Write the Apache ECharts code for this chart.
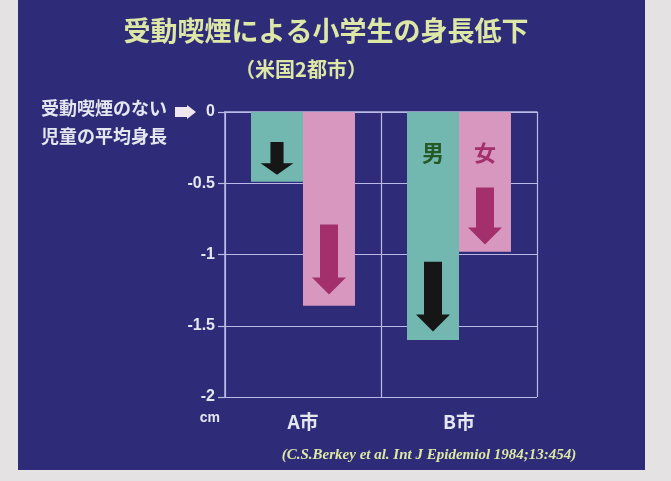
<!DOCTYPE html>
<html>
<head>
<meta charset="utf-8">
<script src="https://cdn.jsdelivr.net/npm/echarts@6/dist/echarts.min.js"></script>
<style>
  html, body { margin: 0; padding: 0; background: #e4e2e2; }
  #chart { width: 671px; height: 481px; }
</style>
</head>
<body>
<div id="chart"></div>
<script>
// Height deficit (cm) of children exposed to passive smoking, two US cities
const cities = ['A市', 'B市'];
const boysDeficit = [-0.49, -1.60];
const girlsDeficit = [-1.36, -0.98];
const yTicks = [0, -0.5, -1, -1.5, -2];
const labelledCity = 'B市';

// Decorative downward arrows inside each bar (start / tip values)
const boysArrowFrom = [-0.21, -1.05];
const boysArrowTo = [-0.44, -1.54];
const girlsArrowFrom = [-0.79, -0.53];
const girlsArrowTo = [-1.28, -0.93];

const FONT_JP = '"Noto Sans CJK JP", "Noto Sans", sans-serif';
const FONT_NUM = '"Liberation Sans", Arial, sans-serif';
const NAVY = '#2e2c78';
const GRIDLINE = '#b9b8e6';
const PALE = '#dde8a6';
const INK = '#e4e6f0';
const TEAL = '#73b8b0';
const PINK = '#d797bf';
const CRIMSON = '#a3306c';
const DARK = '#161616';

function withSeriesLabel(values) {
  return values.map((v, i) => cities[i] === labelledCity ? { value: v, label: { show: true } } : v);
}

function arrowSeries(name, from, to, side, color) {
  return {
    type: 'custom',
    name: name,
    z: 5,
    silent: true,
    encode: { x: 0, y: [1, 2] },
    data: from.map((s, i) => [i, s, to[i]]),
    renderItem: function (params, api) {
      const i = api.value(0);
      const band = api.size([1, 0])[0];
      const p0 = api.coord([i, api.value(1)]);
      const p1 = api.coord([i, api.value(2)]);
      const cx = p0[0] + side * band / 6;
      const len = p1[1] - p0[1];
      const shaft = Math.min(18, len * 0.4);
      const headW = Math.min(34, len);
      const headL = Math.min(17, len * 0.35);
      const y0 = p0[1], y1 = p1[1], yh = y1 - headL;
      return {
        type: 'polygon',
        shape: {
          points: [
            [cx - shaft / 2, y0], [cx + shaft / 2, y0], [cx + shaft / 2, yh],
            [cx + headW / 2, yh], [cx, y1], [cx - headW / 2, yh], [cx - shaft / 2, yh]
          ]
        },
        style: { fill: color }
      };
    }
  };
}

const chart = echarts.init(document.getElementById('chart'), null, { renderer: 'canvas' });

chart.setOption({
  animation: false,
  backgroundColor: '#e4e2e2',
  graphic: [
    { type: 'rect', z: -100, shape: { x: 18, y: 0, width: 627, height: 470 }, style: { fill: NAVY } },
    { type: 'text', left: 41, top: 99, style: { text: '受動喫煙のない', fill: INK, font: 'bold 18px ' + FONT_JP } },
    { type: 'text', left: 41, top: 127, style: { text: '児童の平均身長', fill: INK, font: 'bold 18px ' + FONT_JP } },
    // chunky block arrow pointing at the zero line
    {
      type: 'polygon', left: 175, top: 105,
      shape: { points: [[0, 2], [12, 2], [12, 0], [21, 7], [12, 14], [12, 12], [0, 12]] },
      style: { fill: '#f0e6ee' }
    }
  ],
  title: [
    {
      text: '受動喫煙による小学生の身長低下',
      left: 321, top: 12, textAlign: 'center',
      textStyle: { color: PALE, fontFamily: FONT_JP, fontWeight: 'bold', fontSize: 27 }
    },
    {
      text: '（米国2都市）',
      left: 296, top: 54, textAlign: 'center',
      textStyle: { color: PALE, fontFamily: FONT_JP, fontWeight: 'bold', fontSize: 20 }
    },
    {
      text: '(C.S.Berkey et al. Int J Epidemiol 1984;13:454)',
      left: 424, top: 443, textAlign: 'center',
      textStyle: { color: PALE, fontFamily: '"Liberation Serif", "Times New Roman", serif', fontStyle: 'italic', fontWeight: 'bold', fontSize: 15 }
    }
  ],
  grid: { left: 225, right: 134, top: 112, bottom: 84, containLabel: false },
  xAxis: {
    type: 'category',
    data: cities,
    boundaryGap: true,
    axisLine: { show: true, lineStyle: { color: GRIDLINE, width: 1.5 } },
    axisTick: { show: false },
    splitLine: { show: true, lineStyle: { color: GRIDLINE, width: 1.2 } },
    axisLabel: { color: INK, fontFamily: FONT_JP, fontWeight: 'bold', fontSize: 19, margin: 15 }
  },
  yAxis: {
    type: 'value',
    min: -2, max: 0, interval: 0.5,
    name: 'cm',
    nameLocation: 'start',
    nameGap: 14,
    nameTextStyle: { color: INK, fontFamily: FONT_NUM, fontWeight: 'bold', fontSize: 14, align: 'right', padding: [0, 5, 0, 0] },
    axisLine: { show: true, lineStyle: { color: GRIDLINE, width: 1.5 } },
    axisTick: { show: true, length: 7, lineStyle: { color: GRIDLINE, width: 1.2 } },
    splitLine: { show: true, lineStyle: { color: GRIDLINE, width: 1.2 } },
    axisLabel: {
      color: INK, fontFamily: FONT_NUM, fontWeight: 'bold', fontSize: 16, margin: 10,
      formatter: function (v) { return yTicks.indexOf(v) >= 0 ? String(v) : ''; }
    }
  },
  series: [
    {
      name: '男', type: 'bar', data: withSeriesLabel(boysDeficit),
      barGap: 0, barCategoryGap: '33.34%',
      itemStyle: { color: TEAL },
      label: { show: false, position: 'insideTop', distance: 30, formatter: '{a}', color: '#255a28', fontFamily: FONT_JP, fontWeight: 'bold', fontSize: 22 }
    },
    {
      name: '女', type: 'bar', data: withSeriesLabel(girlsDeficit),
      barGap: 0, barCategoryGap: '33.34%',
      itemStyle: { color: PINK },
      label: { show: false, position: 'insideTop', distance: 30, formatter: '{a}', color: CRIMSON, fontFamily: FONT_JP, fontWeight: 'bold', fontSize: 22 }
    },
    arrowSeries('男矢印', boysArrowFrom, boysArrowTo, -1, DARK),
    arrowSeries('女矢印', girlsArrowFrom, girlsArrowTo, 1, CRIMSON)
  ]
});
</script>
</body>
</html>
